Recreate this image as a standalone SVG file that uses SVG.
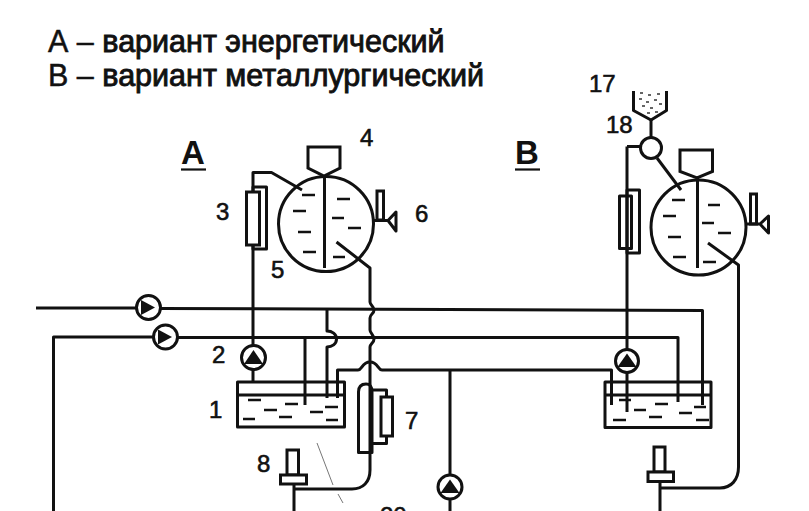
<svg xmlns="http://www.w3.org/2000/svg" width="809" height="511" viewBox="0 0 809 511">
<style>
text{font-family:"Liberation Sans",Arial,sans-serif;fill:#111}
.t{font-size:30.500px;stroke:#111;stroke-width:.5px}
.b{stroke-width:.9px}
.n{font-size:24px;font-weight:400;stroke:#111;stroke-width:.6px}
.h{font-size:33px;font-weight:700}
.u{stroke:#111;stroke-width:2.200;fill:none}
.l{fill:none;stroke:#111;stroke-width:3;stroke-linejoin:round}
.s{fill:#fff;stroke:#111;stroke-width:3}
.d{stroke:#111;stroke-width:2.400;fill:none}
.a{fill:#111;stroke:none}
.f{fill:none;stroke:#777;stroke-width:1}
</style>
<rect width="809" height="511" fill="#fff"/>
<g id="title">
<text class="t" x="48" y="52">А – <tspan class="b">вариант энергетический</tspan></text>
<text class="t" x="48" y="86">В – <tspan class="b">вариант металлургический</tspan></text>
</g>
<g id="connectors">
<path class="l" d="M36 308H136M160 308.500L702.500 310.500V405"/>
<path class="l" d="M53.500 511V337H153M178 337.500H678V402"/>
<path class="l" d="M253 345V172.500H271.500L302 190"/>
<path class="l" d="M336.500 242L370 268V302C370 305 374 306 374 310C374 314 370 314 370 318V330C370 333 374 335 374 339C374 343 370 344 370 347V470C370 482 363 489 352 489H294"/>
<path class="l" d="M305 338V405"/>
<path class="l" d="M327 310V331C332 331 336.500 334 336.500 339C336.500 344 332 347 327 347V398"/>
<path class="l" d="M337.500 398V370H358C362 370 362 362 370 362C378 362 378 370 382 370H611.500V405"/>
<path class="l" d="M450 370V475M450 499V511"/>
<path class="l" d="M253 369.500V382"/>
<path class="l" d="M627 146.500V349.500M627 372.500V412"/>
<path class="l" d="M640 146.500H627"/>
<path class="l" d="M651 120V138"/>
<path class="l" d="M657 158L681 190"/>
<path class="l" d="M708 243L738.500 265V467C738.500 480 731 488 720 488H660"/>
<path class="l" d="M294 484V511M660 481V511"/>
</g>
<g id="node-1-tank">
<rect class="l" x="237.500" y="382" width="107" height="45"/>
<path class="l" d="M237.500 395H344.500"/>
<path class="d" d="M248 400H261M264 410H277M285 404H298M310 412H323M325 407H338M243 419H255M279 417H292M326 420H338"/>
</g>
<g id="node-2-pump"><circle class="s" cx="253.500" cy="357.500" r="12"/><path class="a" d="M253.500 350L263 364H244Z"/></g>
<g id="node-3">
<rect class="l" x="253" y="187" width="13.500" height="62"/>
<rect class="s" x="246.500" y="192" width="13" height="53"/>
</g>
<g id="node-4-5-vessel">
<path class="s" d="M308 147H340V168L324 176L308 168Z"/>
<circle class="l" cx="326" cy="224" r="47.500"/>
<path class="l" d="M324.500 176V268"/>
<path class="d" d="M302 195H315M293 211H306M298 232H311M303 252H316M337 199H350M332 218H344M348 228H361M333 257H345"/>
</g>
<g id="node-6"><rect class="s" x="377" y="191" width="6.500" height="29"/><path class="l" d="M374 220.500H388M388 220.500L396 212V231Z"/></g>
<g id="node-7">
<path class="l" d="M358.500 452.500V392C358.500 386 362 384 366 384C370 384 372 386 372 392V452.500Z"/>
<path class="l" d="M372 390H386.500V397M372 443.500H386.500V436"/>
<rect class="s" x="381" y="397" width="11.500" height="39"/>
</g>
<g id="node-8">
<rect class="s" x="287" y="450" width="11.500" height="25"/>
<rect class="s" x="280.500" y="475" width="26" height="9"/>
</g>
<g id="node-20-pump"><circle class="s" cx="450" cy="487" r="12"/><path class="a" d="M450 479.500L459.500 493H440.500Z"/></g>
<g id="pump-top"><circle class="s" cx="148.500" cy="307.500" r="12"/><path class="a" d="M141 300L155 307.500L141 315Z"/></g>
<g id="pump-lower"><circle class="s" cx="165.500" cy="337" r="12"/><path class="a" d="M158 329.500L172 337L158 344.500Z"/></g>
<g id="node-tank-b">
<rect class="l" x="605" y="382" width="106" height="45.500"/>
<path class="l" d="M605 395H711"/>
<path class="d" d="M619 400H631M634 410H646M655 404H668M679 413H692M694 407H706M613 420H626M649 417H662M696 420H709"/>
</g>
<g id="node-pump-b"><circle class="s" cx="627" cy="361" r="11.500"/><path class="a" d="M627 353.500L636.500 367H617.500Z"/></g>
<g id="node-element-b">
<rect class="l" x="627" y="190" width="12.500" height="63"/>
<rect class="l" x="619.500" y="196" width="12" height="52.500"/>
</g>
<g id="node-17"><path class="l" d="M633.500 91V110.500L651 120L666.500 110.500V91"/>
<path d="M640 93H643M648 95H651M657 94H660M639 99H642M646 102H649M654 100H657M642 106H645M650 108H653M659 104H662M647 113H650M655 112H658" stroke="#333" stroke-width="1.600" fill="none"/></g>
<g id="node-18"><circle class="s" cx="651" cy="148" r="10.500"/></g>
<g id="node-vessel-b">
<path class="s" d="M680 150H712.500V171.500L697 178L680 171.500Z"/>
<circle class="l" cx="698.500" cy="227.500" r="47.500"/>
<path class="l" d="M697.500 178V268"/>
<path class="d" d="M672 200H685M663 216H676M668 237H681M673 257H686M708 205H720M702 223H714M718 233H731M703 262H716"/>
</g>
<g id="node-sensor-b"><rect class="s" x="750.500" y="194" width="6" height="30"/><path class="l" d="M746 224H760M760 224L768.500 216V233Z"/></g>
<g id="node-8b">
<rect class="s" x="654" y="447" width="11" height="25"/>
<rect class="s" x="648" y="472" width="25.500" height="9.500"/>
</g>
<g id="sketch-marks"><path class="f" d="M317 443L333 485M338 494L343 503"/></g>
<g id="labels">
<text class="h" x="181" y="164">А</text>
<path class="u" d="M181 169.500H206"/>
<text class="h" x="515" y="164">В</text>
<path class="u" d="M515 169.500H540"/>
<text class="n" x="360" y="146">4</text>
<text class="n" x="216" y="220">3</text>
<text class="n" x="415" y="222">6</text>
<text class="n" x="271" y="278">5</text>
<text class="n" x="212" y="363">2</text>
<text class="n" x="209" y="418">1</text>
<text class="n" x="405" y="429">7</text>
<text class="n" x="257" y="472">8</text>
<text class="n" x="380" y="524">20</text>
<text class="n" x="589" y="92">17</text>
<text class="n" x="606" y="133">18</text>
</g>
</svg>
